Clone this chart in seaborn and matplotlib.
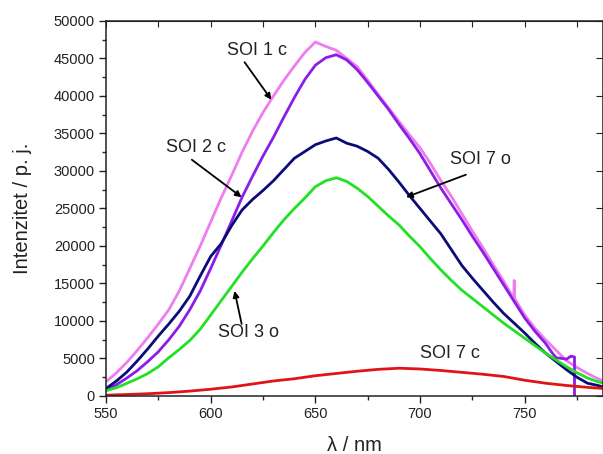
import matplotlib
matplotlib.use("Agg")
import matplotlib.pyplot as plt
import seaborn as sns
from matplotlib.ticker import MultipleLocator

# SOI 1 c (pink)
wl_1c = [550, 555, 560, 565, 570, 575, 580, 585, 590, 595, 600, 605, 610, 615, 620, 625,
         630, 635, 640, 645, 650, 655, 660, 665, 670, 675, 680, 685, 690, 695, 700, 705,
         710, 715, 720, 725, 730, 735, 740, 744.8, 745.0, 745.2, 750, 755, 760, 765, 770,
         775, 780, 785, 787.5]
int_1c = [1900, 3100, 4500, 6100, 7800, 9600, 11500, 14000, 17000, 20000, 23200, 26400,
          29400, 32500, 35300, 37800, 40000, 42100, 44000, 45800, 47200, 46600, 46100,
          45000, 43900, 42100, 40200, 38400, 36600, 34800, 33100, 31000, 28700, 26600,
          24300, 22000, 19800, 17500, 15300, 13000, 15400, 13000, 10800, 9000, 7500, 6100,
          4700, 3800, 3000, 2300, 2000]

# SOI 2 c (purple)
wl_2c = [550, 555, 560, 565, 570, 575, 580, 585, 590, 595, 600, 605, 610, 615, 620, 625,
         630, 635, 640, 645, 650, 655, 660, 665, 670, 675, 680, 685, 690, 695, 700, 705,
         710, 715, 720, 725, 730, 735, 740, 745, 750, 755, 760, 763, 765, 768, 770, 772,
         773.8, 773.8]
int_2c = [900, 1500, 2400, 3400, 4600, 5900, 7500, 9300, 11500, 14000, 17000, 20100,
          23300, 26500, 29300, 32000, 34500, 37200, 39800, 42200, 44100, 45100, 45500,
          44800, 43500, 41800, 40000, 38200, 36200, 34300, 32300, 30000, 27700, 25600,
          23500, 21300, 19200, 17000, 14800, 12600, 10400, 8600, 7000, 5800, 5100, 5000,
          4900, 5300, 5200, 0]

# SOI 7 o (navy)
wl_7o = [550, 555, 560, 565, 570, 575, 580, 585, 590, 595, 600, 605, 610, 615, 620, 625,
         630, 635, 640, 645, 650, 655, 660, 665, 670, 675, 680, 685, 690, 695, 700, 705,
         710, 715, 720, 725, 730, 735, 740, 745, 750, 755, 760, 765, 770, 775, 780, 785,
         787.5]
int_7o = [1000, 2000, 3200, 4700, 6300, 8000, 9600, 11300, 13300, 16000, 18600, 20300,
          22700, 24800, 26200, 27400, 28700, 30200, 31700, 32600, 33500, 34000, 34400,
          33700, 33300, 32600, 31700, 30200, 28500, 26700, 25000, 23300, 21600, 19500,
          17400, 15700, 14100, 12500, 11000, 9700, 8400, 7000, 5700, 4600, 3500, 2500,
          1700, 1400, 1200]

# SOI 3 o (green)
wl_3o = wl_7o
int_3o = [700, 1100, 1700, 2300, 3000, 3900, 5100, 6200, 7400, 8900, 10800, 12700,
          14600, 16500, 18300, 20000, 21800, 23500, 25000, 26400, 27900, 28700, 29100,
          28600, 27700, 26600, 25300, 24000, 22800, 21300, 19900, 18300, 16800, 15400,
          14100, 13000, 11900, 10800, 9700, 8700, 7700, 6700, 5700, 4800, 3900, 3100,
          2400, 1900, 1700]

# SOI 7 c (red)
wl_7c = [550, 560, 570, 580, 590, 600, 610, 620, 630, 640, 650, 660, 670, 680, 690, 700,
         710, 720, 730, 740, 750, 760, 770, 780, 787.5]
int_7c = [100, 200, 300, 450, 650, 900, 1200, 1600, 2000, 2300, 2700, 3000, 3300, 3550,
          3700, 3600, 3400, 3150, 2900, 2600, 2100, 1700, 1400, 1150, 1000]

sns.set_style("ticks")
plt.rcParams["font.family"] = ["Liberation Sans", "DejaVu Sans"]

fig = plt.figure(figsize=(6.03, 4.54), dpi=100)
ax = fig.add_axes([0.1758, 0.1278, 0.8245, 0.826])

series = [
    (wl_1c, int_1c, "#f07cf0"),
    (wl_2c, int_2c, "#8a1ee6"),
    (wl_7o, int_7o, "#0c0c78"),
    (wl_3o, int_3o, "#22e022"),
    (wl_7c, int_7c, "#e01414"),
]
for x, y, c in series:
    sns.lineplot(x=x, y=y, color=c, linewidth=2.0, estimator=None, sort=False, ax=ax)

ax.set_xlim(550, 787.5)
ax.set_ylim(0, 50000)
ax.xaxis.set_major_locator(MultipleLocator(50))
ax.xaxis.set_minor_locator(MultipleLocator(25))
ax.yaxis.set_major_locator(MultipleLocator(5000))
ax.yaxis.set_minor_locator(MultipleLocator(2500))
ax.tick_params(which="major", direction="out", length=5, width=1, labelsize=10.5,
               colors="#222222", pad=3)
ax.tick_params(which="minor", direction="out", length=3, width=1)
for s in ax.spines.values():
    s.set_linewidth(1.1)
    s.set_color("#222222")

top = ax.secondary_xaxis("top")
top.xaxis.set_major_locator(MultipleLocator(25))
top.tick_params(direction="in", length=4, labeltop=False, colors="#222222")
right = ax.secondary_yaxis("right")
right.yaxis.set_major_locator(MultipleLocator(5000))
right.tick_params(direction="in", length=5, labelright=False, colors="#222222")

ax.set_xlabel("λ / nm", fontsize=14.5, labelpad=11, color="#222222")
ax.set_ylabel("Intenzitet / p. j.", fontsize=14.5, labelpad=16, color="#222222")

labels = [
    ("SOI 1 c", 621.9, 46100, (616.2, 44500), (629.0, 39500)),
    ("SOI 2 c", 592.9, 33100, (591.0, 31500), (614.8, 26500)),
    ("SOI 7 o", 729.0, 31500, (721.9, 29500), (693.3, 26500)),
    ("SOI 3 o", 618.1, 8400, (614.8, 9600), (611.4, 14000)),
    ("SOI 7 c", 714.3, 5700, None, None),
]
for text, tx, ty, start, tip in labels:
    ax.text(tx, ty, text, fontsize=13, ha="center", va="center", color="#222222")
    if start is not None:
        ax.annotate("", xy=tip, xytext=start,
                    arrowprops=dict(arrowstyle="-|>", color="black", lw=1.3,
                                    mutation_scale=9, shrinkA=0, shrinkB=0))

fig.savefig("out.png", dpi=100)
